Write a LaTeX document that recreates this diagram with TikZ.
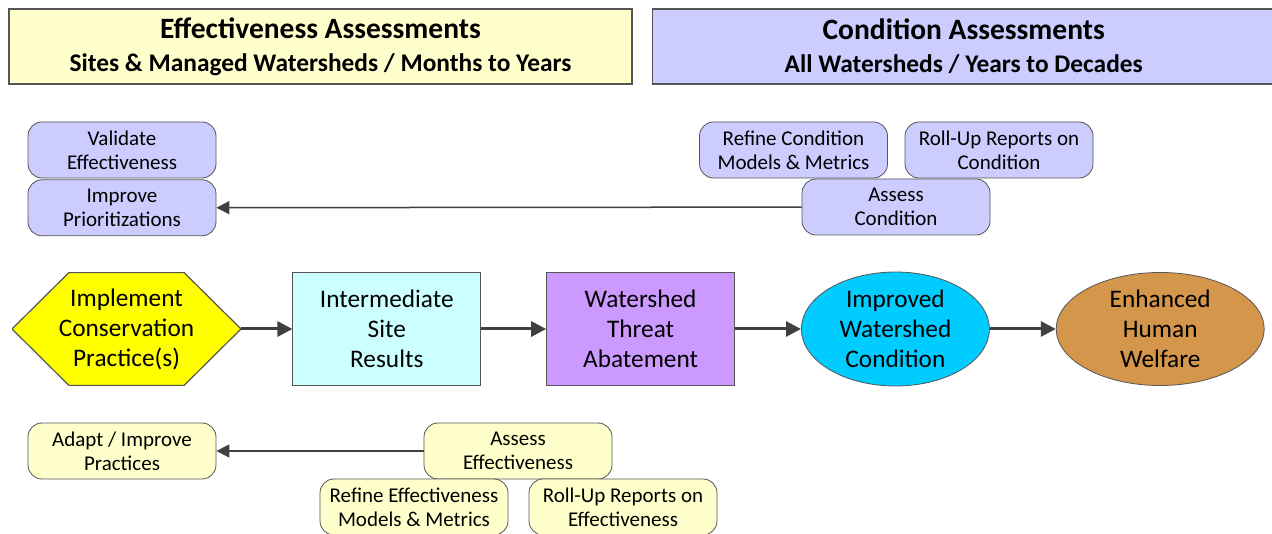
\documentclass[tikz,border=0pt]{standalone}
\usepackage{fontspec}
\setmainfont{Carlito}
\usepackage{tikz}
\usetikzlibrary{shapes.geometric,arrows.meta,positioning,calc}
\definecolor{effyellow}{HTML}{FFFFCC}
\definecolor{condblue}{HTML}{CCCCFF}
\definecolor{practyellow}{HTML}{FFFF00}
\definecolor{siteaqua}{HTML}{CCFFFF}
\definecolor{threatpurple}{HTML}{CC99FF}
\definecolor{wshedblue}{HTML}{00CCFF}
\definecolor{welfarebrown}{HTML}{D4964A}
\definecolor{edgegray}{HTML}{555555}
\definecolor{arrowgray}{HTML}{404040}
\tikzset{
header/.style = {draw=edgegray, line width=1.2pt, rectangle, minimum width=623, minimum height=75, inner sep=0, align=center, font=\fontsize{25.4}{33}\selectfont\bfseries},
smallbox/.style = {draw=edgegray, line width=0.8pt, rectangle, rounded corners=14pt, minimum width=188, minimum height=56, inner sep=0, align=center, font=\fontsize{21}{24}\selectfont},
stage/.style = {draw=edgegray, line width=0.8pt, minimum width=188, minimum height=113, inner sep=0, align=center, font=\fontsize{25.3}{30}\selectfont},
hexa/.style = {stage, draw=none, minimum width=229, path picture={
    \draw [draw=edgegray, line width=1.2pt, fill=practyellow]
      (path picture bounding box.west) -- ($(path picture bounding box.north west)+(57,0)$)
      -- ($(path picture bounding box.north east)+(-57,0)$) -- (path picture bounding box.east)
      -- ($(path picture bounding box.south east)+(-57,0)$) -- ($(path picture bounding box.south west)+(57,0)$)
      -- cycle;}},
outcome/.style = {stage, ellipse},
flow/.style = {->, >={Triangle[length=15pt,width=15pt]}, draw=arrowgray, fill=arrowgray, line width=3pt},
link/.style = {->, >={Triangle[length=13pt,width=13pt]}, draw=arrowgray, fill=arrowgray, line width=1.5pt}
}
\begin{document}
\begin{tikzpicture}[x=1pt, y=-1pt]
    \useasboundingbox (0,0) rectangle (1272,534);
    % headers
    \node [header, fill=effyellow] (effhead) at (320.5,46.5) {{\fontsize{29.5}{33}\selectfont Effectiveness Assessments}\\Sites \& Managed Watersheds / Months to Years};
    \node [header, fill=condblue, right=19pt of effhead] (condhead) {{\fontsize{29.5}{33}\selectfont Condition Assessments}\\All Watersheds / Years to Decades};
    % main chain
    \node [hexa] (practice) at (126.5,329) {Implement\\Conservation\\Practice(s)};
    \node [stage, fill=siteaqua, right=51pt of practice] (site) {Intermediate\\Site\\Results};
    \node [stage, fill=threatpurple, right=65pt of site] (threat) {Watershed\\Threat\\Abatement};
    \node [outcome, fill=wshedblue, right=66pt of threat, minimum height=114] (wshed) {Improved\\Watershed\\Condition};
    \node [outcome, fill=welfarebrown, right=66pt of wshed, minimum width=208] (welfare) {Enhanced\\Human\\Welfare};
    % condition loop
    \node [smallbox, fill=condblue] (validate) at (122,150) {Validate\\Effectiveness};
    \node [smallbox, fill=condblue, below=1pt of validate] (prioritize) {Improve\\Prioritizations};
    \node [smallbox, fill=condblue] (refinecond) at (793.5,150) {Refine Condition\\Models \& Metrics};
    \node [smallbox, fill=condblue] (rollcond) at (999,150) {Roll-Up Reports on\\Condition};
    \node [smallbox, fill=condblue] (assesscond) at (896,207) {Assess\\Condition};
    % effectiveness loop
    \node [smallbox, fill=effyellow] (adapt) at (122,451) {Adapt / Improve\\Practices};
    \node [smallbox, fill=effyellow] (assesseff) at (518,451) {Assess\\Effectiveness};
    \node [smallbox, fill=effyellow] (refineeff) at (414,507) {Refine Effectiveness\\Models \& Metrics};
    \node [smallbox, fill=effyellow] (rolleff) at (623,507) {Roll-Up Reports on\\Effectiveness};
    \draw [flow] (practice) -- (site);
    \draw [flow] (site) -- (threat);
    \draw [flow] (threat) -- (wshed);
    \draw [flow] (wshed) -- (welfare);
    \draw [link] (assesscond) -- (prioritize);
    \draw [link] (assesseff) -- (adapt);
\end{tikzpicture}
\end{document}
